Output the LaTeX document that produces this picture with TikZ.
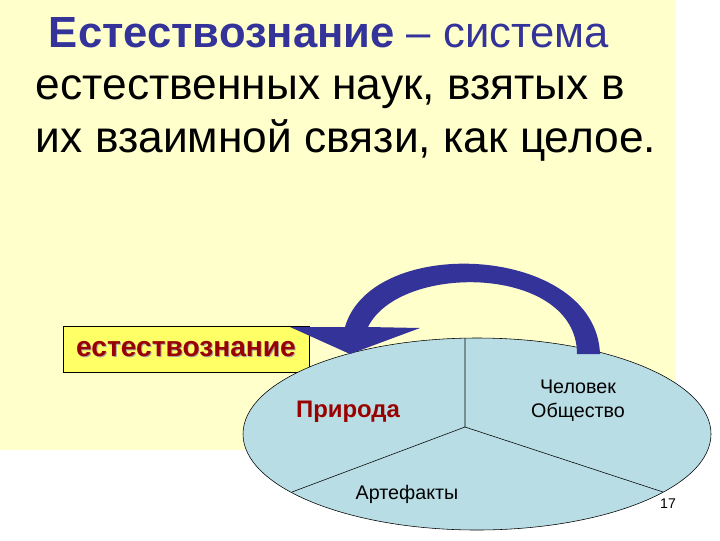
\documentclass[tikz,border=0pt]{standalone}
\usepackage{fontspec}
\setmainfont{Liberation Sans}
\usetikzlibrary{positioning,calc}
\definecolor{slidebg}{HTML}{FFFFCC}
\definecolor{titleblue}{HTML}{333399}
\definecolor{darkred}{HTML}{990000}
\definecolor{boxyellow}{HTML}{FFFF66}
\definecolor{ovalblue}{HTML}{B8DDE4}
\tikzset{
  line/.style={anchor=base west,font=\fontsize{31.5}{31.5}\selectfont},
  redlbl/.style={text=darkred,font=\bfseries\fontsize{17}{17}\selectfont},
  boxlbl/.style={text=darkred,font=\bfseries\fontsize{20}{20}\selectfont},
  part/.style={align=center,font=\fontsize{14}{17}\selectfont}
}

\begin{document}
\begin{tikzpicture}[x=0.025cm,y=-0.025cm]
  \useasboundingbox (0,0) rectangle (720,540);
  \fill[white] (0,0) rectangle (720,540);
  \fill[slidebg] (0,0) rectangle (676,450);
  % definition
  \node[line,font=\fontsize{31}{31}\selectfont,text=titleblue] (L1) at (44,47) {\textbf{Естествознание} – система};
  \node[line] (L2) at (31,99) {естественных наук, взятых в};
  \node[line] (L3) at (31,152) {их взаимной связи, как целое.};
  % label box
  \node[draw,fill=boxyellow,minimum width=6.15cm,minimum height=1.15cm,inner sep=0pt] (box) at (186,349) {};
  \node[boxlbl,text=black!35] (shd) at (187,350) {естествознание};
  \node[boxlbl] (nat) at (186,349) {естествознание};
  % oval with three parts
  \coordinate (O) at (465,427);
  \coordinate (T) at (465,338);
  \coordinate (A) at (292,492);
  \coordinate (B) at (663,492);
  \draw[fill=ovalblue] (477,434) ellipse [x radius=234,y radius=96];
  \draw (T)--(O)--(A);
  \draw (O)--(B);
  \node[redlbl] (P) at (348,412) {Природа};
  \node[part] (H) at (578,401) {Человек\\Общество};
  \node[part] (F) at (407,494) {Артефакты};
  \node[font=\fontsize{10}{10}\selectfont] (num) at (668,504) {17};
  % curved arrow
  \fill[titleblue] (600,354) .. controls (596,245) and (372,233) .. (345,327)
    -- (290,327) -- (350,354) -- (420,328) -- (368,327)
    .. controls (400,262) and (577,265) .. (577,354) -- cycle;
\end{tikzpicture}
\end{document}
